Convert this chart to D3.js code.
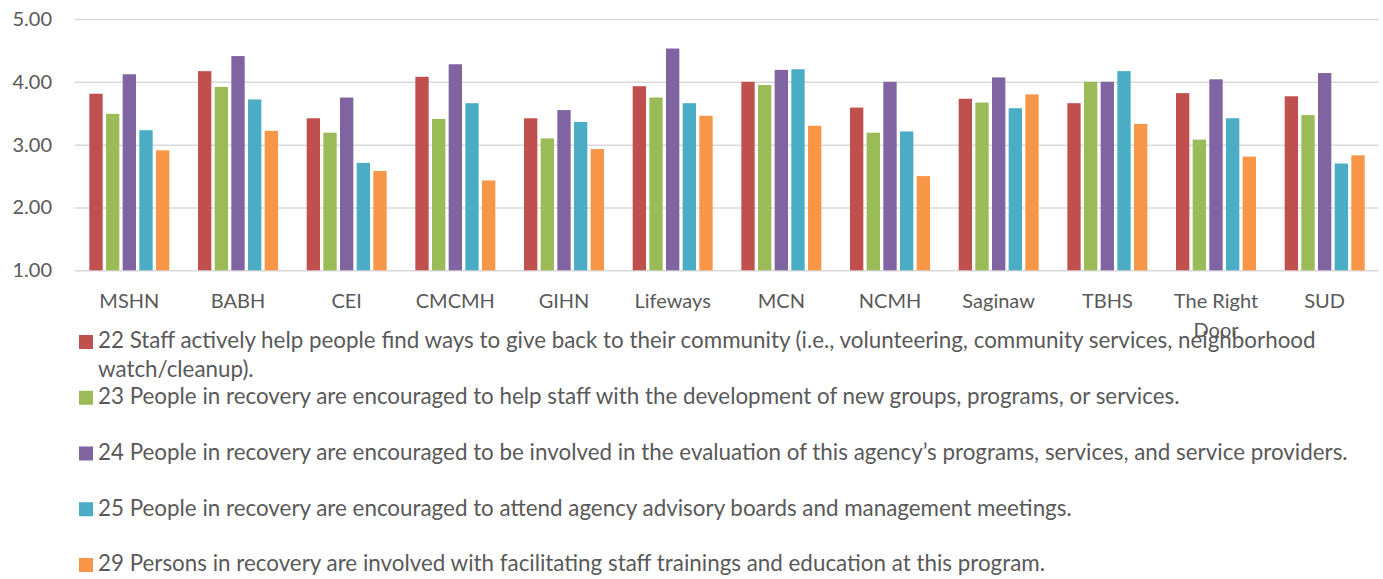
<!DOCTYPE html>
<html>
<head>
<meta charset="utf-8">
<script src="https://cdn.jsdelivr.net/npm/d3@7"></script>
<style>
    body { margin: 0; background: #ffffff; }
    text { font-family: Lato, "Open Sans", sans-serif; fill: #595959; }
</style>
</head>
<body>
<svg id="chart" viewBox="0 0 1383 579" width="1383" height="579"></svg>
<script>

/* ----- Data ----- */

let categories = ["MSHN", "BABH", "CEI", "CMCMH", "GIHN", "Lifeways", "MCN", "NCMH", "Saginaw", "TBHS", "The Right Door", "SUD"];

let series_names = [
    "22 Staff actively help people find ways to give back to their community (i.e., volunteering, community services, neighborhood watch/cleanup).",
    "23 People in recovery are encouraged to help staff with the development of new groups, programs, or services.",
    "24 People in recovery are encouraged to be involved in the evaluation of this agency\u2019s programs, services, and service providers.",
    "25 People in recovery are encouraged to attend agency advisory boards and management meetings.",
    "29 Persons in recovery are involved with facilitating staff trainings and education at this program."
];

let q22 = [3.81, 4.17, 3.42, 4.08, 3.42, 3.93, 4.00, 3.59, 3.73, 3.66, 3.82, 3.77];
let q23 = [3.49, 3.92, 3.19, 3.41, 3.10, 3.75, 3.95, 3.19, 3.67, 4.00, 3.08, 3.47];
let q24 = [4.12, 4.41, 3.75, 4.28, 3.55, 4.53, 4.19, 4.00, 4.07, 4.00, 4.04, 4.14];
let q25 = [3.23, 3.72, 2.71, 3.66, 3.36, 3.66, 4.20, 3.21, 3.58, 4.17, 3.42, 2.70];
let q29 = [2.91, 3.22, 2.58, 2.43, 2.93, 3.46, 3.30, 2.50, 3.80, 3.33, 2.81, 2.83];

let y_ticks = [1, 2, 3, 4, 5];

let series_colors = ["#C0504D", "#9BBB59", "#8064A2", "#4BACC6", "#F79646"];


let svg = d3.select("#chart");
let series_values = [q22, q23, q24, q25, q29];


/* ----- Font size fitted to the reference text widths ----- */

function fit_size(str, target_width)
{
    let probe = svg.append("text").attr("font-size", 100).text(str);
    let w = probe.node().getComputedTextLength();
    probe.remove();
    return 100 * target_width / w;
}

let legend_size = fit_size(series_names[2], 1251);
let axis_size = fit_size("MSHN", 60);


/* ----- Scales ----- */

let x0 = d3.scaleBand()
    .domain(categories)
    .range([75, 1379])
    .paddingInner(0.264)
    .paddingOuter(0.132);

let x1 = d3.scaleBand()
    .domain(d3.range(series_values.length))
    .range([0, x0.bandwidth()])
    .paddingInner(0.2);

let y = d3.scaleLinear()
    .domain([1, 5])
    .range([270.3, 19]);

let color = d3.scaleOrdinal()
    .domain(d3.range(series_values.length))
    .range(series_colors);


/* ----- Gridlines + y axis ----- */

let y_axis = svg.append("g")
    .attr("transform", "translate(75,0)")
    .call(d3.axisLeft(y)
        .tickValues(y_ticks)
        .tickFormat(d3.format(".2f"))
        .tickSize(-1304)
        .tickPadding(23));

y_axis.select(".domain").remove();
y_axis.selectAll(".tick line")
    .attr("stroke", "#D9D9D9")
    .attr("stroke-width", 1.5);
y_axis.selectAll(".tick text")
    .attr("font-family", null)
    .attr("font-size", axis_size)
    .attr("fill", "#595959")
    .attr("dy", "0.32em");


/* ----- Bars ----- */

let groups = svg.append("g")
    .selectAll("g")
    .data(categories)
    .enter()
    .append("g")
    .attr("transform", d => `translate(${x0(d)},0)`);

groups.selectAll("rect")
    .data((d, i) => series_values.map((s, k) => ({series: k, value: s[i]})))
    .enter()
    .append("rect")
    .attr("x", d => x1(d.series))
    .attr("width", x1.bandwidth())
    .attr("y", d => y(d.value))
    .attr("height", d => y(1) - y(d.value))
    .attr("fill", d => color(d.series));


/* ----- Category labels (wrapped to band width) ----- */

function wrap_words(str, max_width, size)
{
    let words = str.split(" ");
    let lines = [];
    let line = "";
    let probe = svg.append("text").attr("font-size", size);
    words.forEach(w => {
        let test = line ? line + " " + w : w;
        probe.text(test);
        if (probe.node().getComputedTextLength() > max_width && line) {
            lines.push(line);
            line = w;
        } else {
            line = test;
        }
    });
    lines.push(line);
    probe.remove();
    return lines;
}

let x_labels = svg.append("g")
    .selectAll("text")
    .data(categories)
    .enter()
    .append("text")
    .attr("text-anchor", "middle")
    .attr("font-size", axis_size)
    .attr("x", d => x0(d) + x0.bandwidth() / 2)
    .attr("y", 308.3);

x_labels.selectAll("tspan")
    .data(d => wrap_words(d, x0.step(), axis_size))
    .enter()
    .append("tspan")
    .attr("x", function () { return d3.select(this.parentNode).attr("x"); })
    .attr("dy", (d, i) => i === 0 ? 0 : 28.5)
    .text(d => d);


/* ----- Legend ----- */

let legend = svg.append("g")
    .selectAll("g")
    .data(series_names)
    .enter()
    .append("g")
    .attr("transform", (d, i) => `translate(79,${335 + i * 55.75})`);

legend.append("rect")
    .attr("width", 14)
    .attr("height", 14)
    .attr("fill", (d, i) => color(i));

legend.append("text")
    .attr("font-size", legend_size)
    .attr("x", 19)
    .attr("y", 13.3)
    .selectAll("tspan")
    .data(d => wrap_words(d, 1265, legend_size))
    .enter()
    .append("tspan")
    .attr("x", 19)
    .attr("dy", (d, i) => i === 0 ? 0 : 28.7)
    .text(d => d);

</script>
</body>
</html>
